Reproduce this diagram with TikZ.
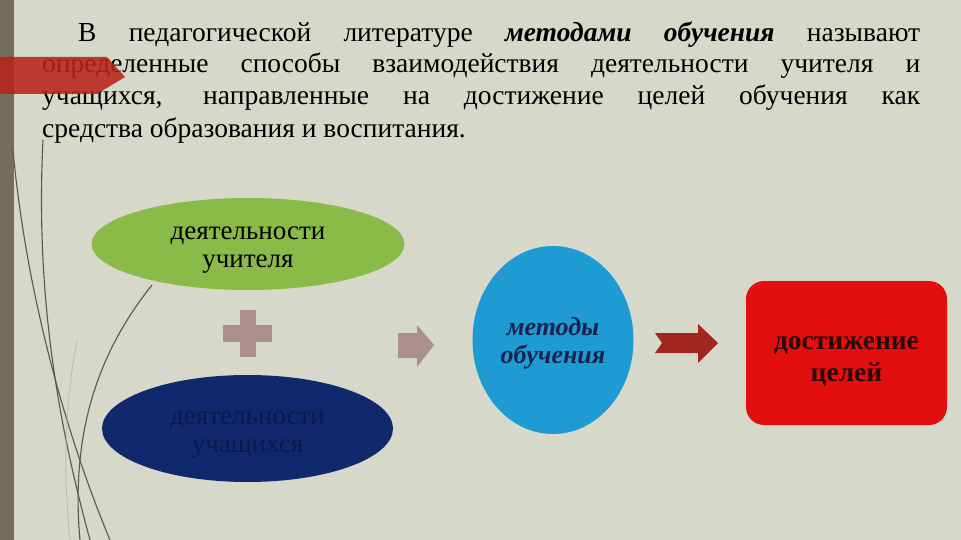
\documentclass[tikz,border=0pt]{standalone}
\usepackage{fontspec}
\setmainfont{Liberation Serif}
\usetikzlibrary{shapes.geometric}
\definecolor{bg}{HTML}{D6D8CA}
\definecolor{stripc}{HTML}{766E5C}
\definecolor{tabred}{HTML}{B8231A}
\definecolor{greenell}{HTML}{8ABA48}
\definecolor{navyell}{HTML}{12286C}
\definecolor{navytext}{HTML}{0A1A4C}
\definecolor{cyanell}{HTML}{1E9BD2}
\definecolor{methtext}{HTML}{1A2250}
\definecolor{mauve}{HTML}{AB8F8E}
\definecolor{darkarrow}{HTML}{A32520}
\definecolor{boxred}{HTML}{E30F0F}
\definecolor{boxtext}{HTML}{2A0808}
\definecolor{linegray}{HTML}{5A564C}
\tikzset{
  paraline/.style={anchor=base west, inner sep=0pt, font=\fontsize{27.5}{32}\selectfont},
  shapetext/.style={font=\fontsize{27}{28}\selectfont, align=center, inner sep=0pt},
  deco/.style={draw=linegray, line width=1.1pt},
}
\begin{document}
\begin{tikzpicture}[x=1pt,y=-1pt]
\fill[bg] (0,0) rectangle (961,540);
\useasboundingbox (0,0) rectangle (961,540);
% left strip
\fill[stripc] (0,0) rectangle (14,540);
% decorative curves
\draw[deco] (13,150) .. controls (25,280) and (60,420) .. (110,540);
\draw[deco] (43,140) .. controls (35,300) and (60,430) .. (90,540);
\draw[deco] (152,285) .. controls (100,350) and (70,430) .. (80,540);
\draw[draw=linegray!40, line width=0.8pt] (77,340) .. controls (66,400) and (62,460) .. (70,540);
% paragraph text
\node[paraline] (l1) at (78,42) {\makebox[842pt][s]{В педагогической литературе \textbf{\textit{методами обучения}} называют}};
\node[paraline] (l2) at (42,73) {\makebox[878pt][s]{определенные способы взаимодействия деятельности учителя и}};
\node[paraline] (l3) at (42,105) {\makebox[878pt][s]{учащихся, направленные на достижение целей обучения как}};
\node[paraline] (l4) at (42,138) {средства образования и воспитания.};
% red tab over text
\fill[tabred, opacity=0.88] (0,57) -- (107,57) -- (125,77) -- (97,94) -- (0,94) -- cycle;
% ellipses
\node[ellipse, fill=greenell, minimum width=313pt, minimum height=92pt, inner sep=0pt] (teacher) at (248,244) {};
\node[shapetext, yshift=-6pt] (teachertxt) at (teacher.center) {деятельности\\учителя};
\node[ellipse, fill=navyell, minimum width=291pt, minimum height=107pt, inner sep=0pt] (pupils) at (247.5,428.5) {};
\node[shapetext, text=navytext, yshift=-7pt] (pupilstxt) at (pupils.center) {деятельности\\учащихся};
% plus
\node[fill=mauve, minimum width=49pt, minimum height=17pt, inner sep=0pt] (plush) at (247.5,333) {};
\node[fill=mauve, minimum width=16pt, minimum height=47pt, inner sep=0pt] (plusv) at (247.5,333) {};
% light arrow
\fill[mauve] (398,333) -- (417,333) -- (417,325) -- (434,345) -- (417,367) -- (417,358) -- (398,358) -- cycle;
% methods circle
\node[ellipse, fill=cyanell, minimum width=161pt, minimum height=188pt, inner sep=0pt] (methods) at (553,340) {};
\node[shapetext, text=methtext, yshift=-3pt, font=\fontsize{26}{28}\selectfont\bfseries\itshape] (methodstxt) at (methods.center) {методы\\обучения};
% dark arrow
\fill[darkarrow] (655,333) -- (698,333) -- (698,324) -- (718,343) -- (698,363) -- (698,353) -- (655,353) -- (662,343) -- cycle;
% goal box
\node[rectangle, rounded corners=18pt, fill=boxred, minimum width=201pt, minimum height=144pt, inner sep=0pt] (goal) at (846.5,353) {};
\node[shapetext, text=boxtext, yshift=-8pt, font=\fontsize{27.5}{32}\selectfont\bfseries] (goaltxt) at (goal.center) {достижение\\целей};
\end{tikzpicture}
\end{document}
